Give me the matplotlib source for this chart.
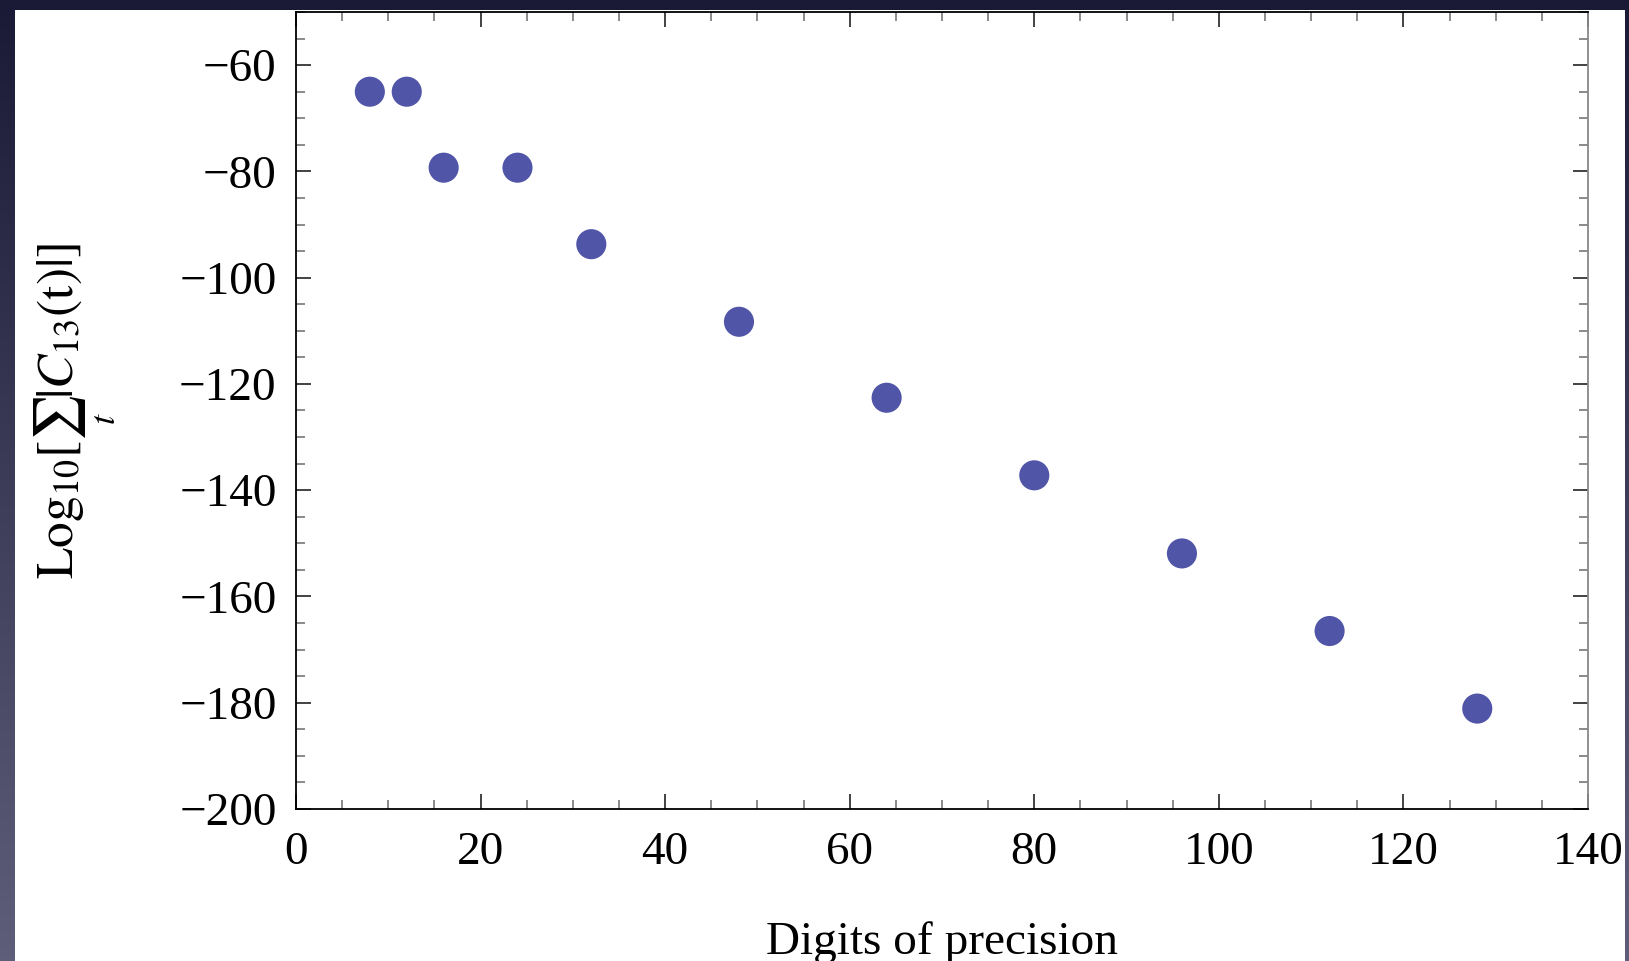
import numpy as np
import matplotlib
matplotlib.use("Agg")
import matplotlib.pyplot as plt
from matplotlib.patches import Rectangle
from matplotlib.ticker import MultipleLocator

plt.rcParams['font.family'] = ['Liberation Serif', 'DejaVu Serif']
plt.rcParams['mathtext.fontset'] = 'stix'

# data
digits = [8, 12, 16, 24, 32, 48, 64, 80, 96, 112, 128]
log_sum = [-65.0, -65.0, -79.3, -79.3, -93.7, -108.3, -122.6, -137.2, -151.9, -166.5, -181.1]

x_ticks = [0, 20, 40, 60, 80, 100, 120, 140]
y_ticks = [-200, -180, -160, -140, -120, -100, -80, -60]

W, H = 1629, 961
fig = plt.figure(figsize=(W / 100, H / 100), dpi=100)

# dark gradient backdrop with a white sheet on top
bg = fig.add_axes([0, 0, 1, 1], zorder=-10)
grad = np.linspace(0, 1, 256).reshape(-1, 1)
top = np.array([26, 26, 54]) / 255
bottom = np.array([94, 94, 122]) / 255
img = top + (bottom - top) * grad[:, :, None]
bg.imshow(img, aspect='auto', extent=[0, 1, 0, 1], origin='upper')
bg.set_axis_off()
fig.patches.append(Rectangle((15 / W, 0), (1625 - 15) / W, (H - 10) / H,
                             transform=fig.transFigure, facecolor='white',
                             edgecolor='none', zorder=-5))

ax = fig.add_axes([296 / W, (H - 809) / H, (1588 - 296) / W, (809 - 12) / H])
ax.set_facecolor('white')
ax.scatter(digits, log_sum, s=470, color='#5055a8', edgecolors='none', zorder=3, clip_on=False)

ax.set_xlim(0, 140)
ax.set_ylim(-200, -50)
ax.set_xticks(x_ticks)
ax.set_yticks(y_ticks)
ax.xaxis.set_minor_locator(MultipleLocator(5))
ax.yaxis.set_minor_locator(MultipleLocator(5))
ax.set_xticklabels([str(v) for v in x_ticks])
ax.set_yticklabels([str(v).replace('-', '\u2212') for v in y_ticks])

ax.tick_params(which='both', direction='in', top=True, right=True, labelsize=34)
ax.tick_params(which='major', length=11, width=1.2, color='#222222')
ax.tick_params(which='minor', length=6.5, width=1.2, color='#777777')
ax.tick_params(axis='x', which='major', pad=16)
ax.tick_params(axis='y', which='major', pad=14)

for side in ['left', 'bottom', 'top']:
    ax.spines[side].set_color('black')
    ax.spines[side].set_linewidth(1.3)
ax.spines['right'].set_color('#888888')
ax.spines['right'].set_linewidth(1.3)

ax.set_xlabel('Digits of precision', fontsize=34, labelpad=34)
ax.set_ylabel(r'$\mathrm{Log}_{10}[\sum_{t}|C_{13}(\mathrm{t})|]$', fontsize=37, labelpad=44)

fig.savefig('out.png', dpi=100)
